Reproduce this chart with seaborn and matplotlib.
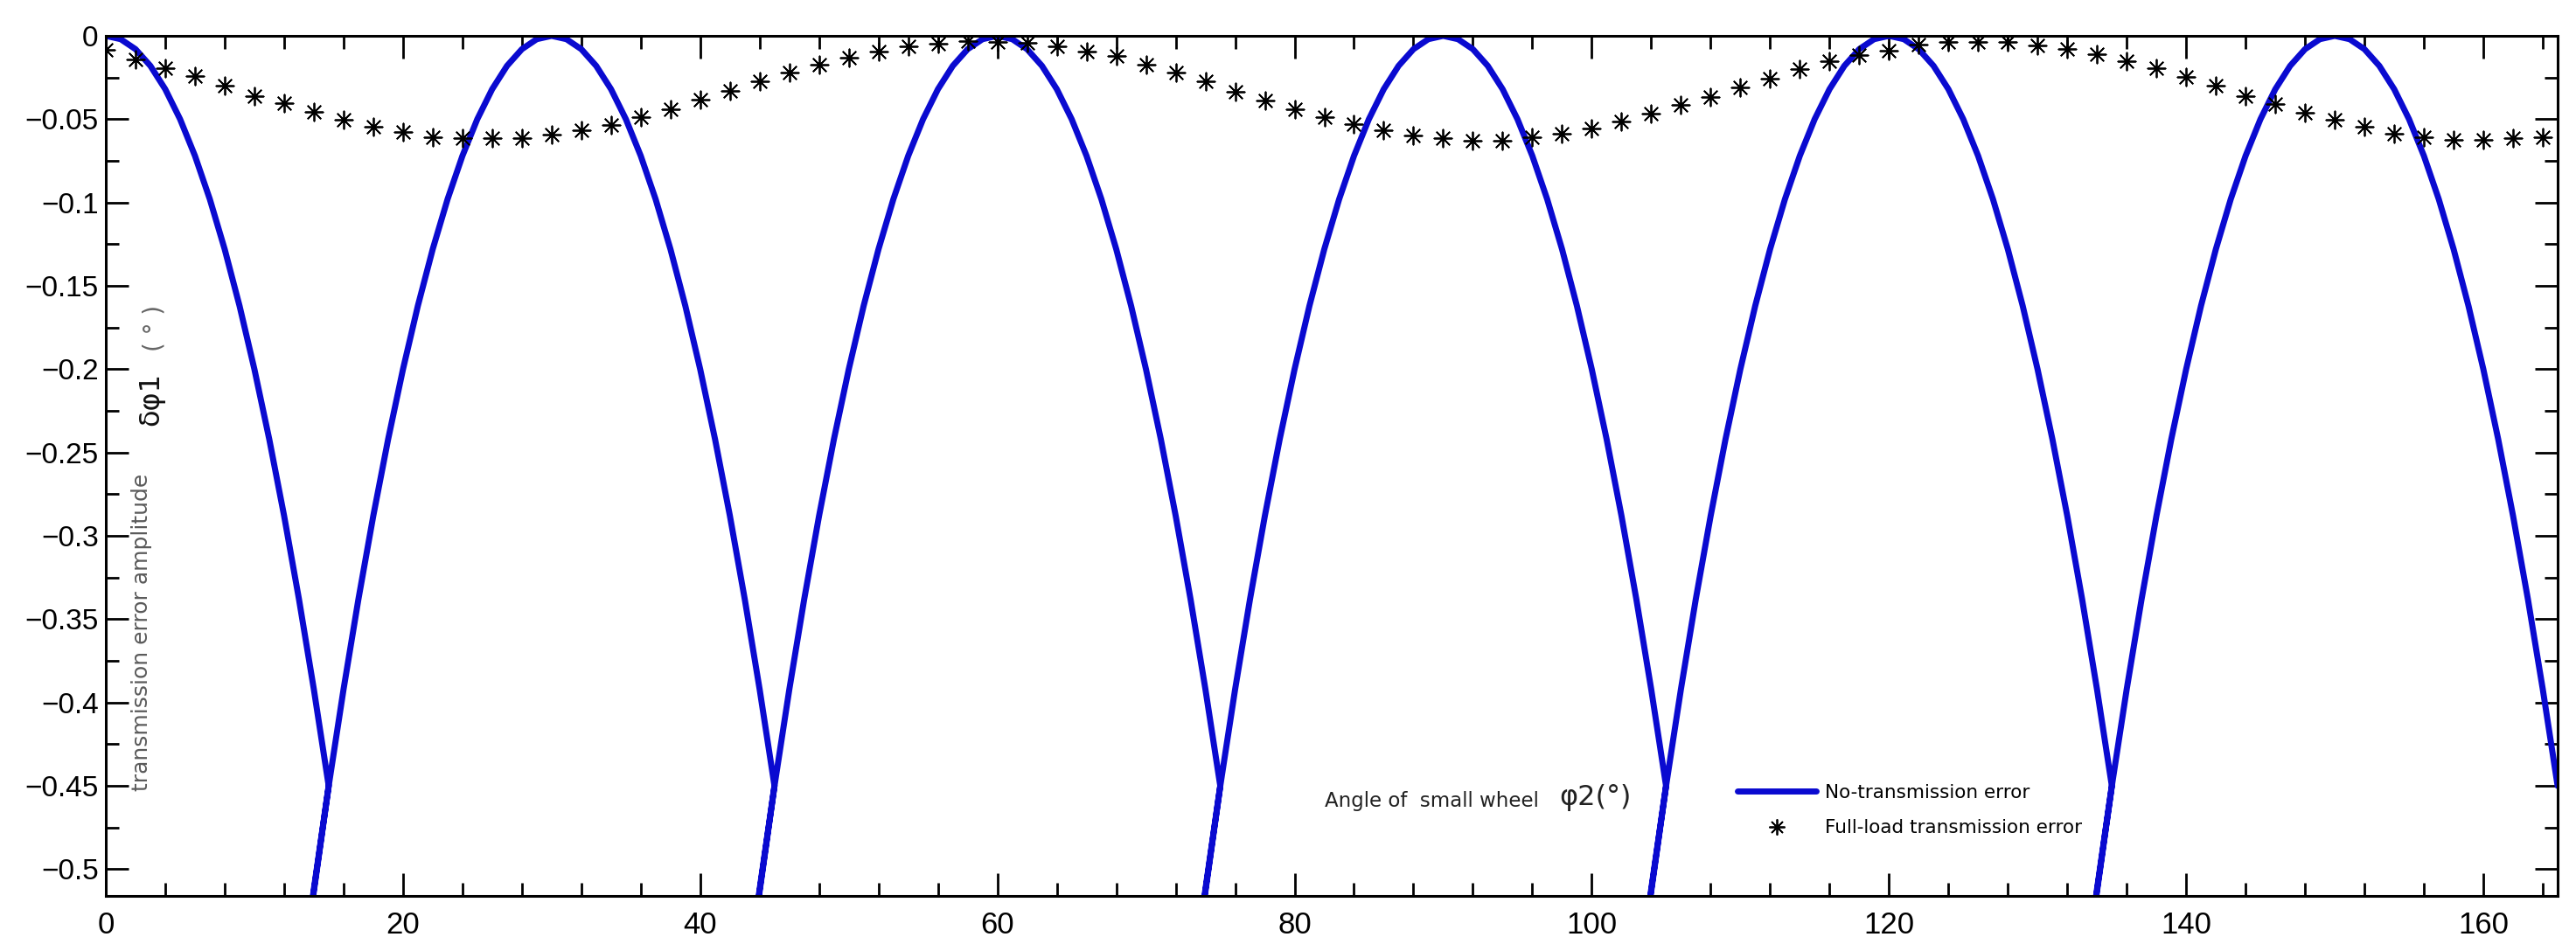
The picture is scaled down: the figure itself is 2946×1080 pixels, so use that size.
import matplotlib
matplotlib.use("Agg")
import matplotlib.pyplot as plt
import seaborn as sns
import pandas as pd
from matplotlib.lines import Line2D
from matplotlib.ticker import MultipleLocator

# ---------------- data ----------------
# No-transmission error: one tooth-pair arch (offset from tooth centre, value), repeated per tooth
tooth_centers = [0, 30, 60, 90, 120, 150]
arch_offsets = [-16.5, -16, -15, -14, -13, -12, -11, -10, -9, -8, -7, -6, -5, -4, -3, -2, -1,
                0, 1, 2, 3, 4, 5, 6, 7, 8, 9, 10, 11, 12, 13, 14, 15]
arch_values = [-0.545, -0.512, -0.450, -0.392, -0.338, -0.288, -0.242, -0.200, -0.162, -0.128,
               -0.098, -0.072, -0.050, -0.032, -0.018, -0.008, -0.002,
               0.0, -0.002, -0.008, -0.018, -0.032, -0.050, -0.072, -0.098, -0.128, -0.162,
               -0.200, -0.242, -0.288, -0.338, -0.392, -0.450]

# Full-load transmission error (asterisks)
star_x = [0, 2, 4, 6, 8, 10, 12, 14, 16, 18, 20, 22, 24, 26, 28, 30, 32, 34, 36, 38,
          40, 42, 44, 46, 48, 50, 52, 54, 56, 58, 60, 62, 64, 66, 68, 70, 72, 74, 76, 78,
          80, 82, 84, 86, 88, 90, 92, 94, 96, 98, 100, 102, 104, 106, 108, 110, 112, 114,
          116, 118, 120, 122, 124, 126, 128, 130, 132, 134, 136, 138, 140, 142, 144, 146,
          148, 150, 152, 154, 156, 158, 160, 162, 164]
star_y = [-0.0082, -0.0143, -0.0192, -0.0243, -0.0301, -0.0362, -0.0406, -0.0455, -0.0502,
          -0.0546, -0.0575, -0.0610, -0.0612, -0.0616, -0.0616, -0.0595, -0.0567, -0.0537,
          -0.0488, -0.0441, -0.0385, -0.0331, -0.0275, -0.0222, -0.0175, -0.0131, -0.0096,
          -0.0065, -0.0047, -0.0030, -0.0038, -0.0042, -0.0065, -0.0096, -0.0122, -0.0175,
          -0.0222, -0.0271, -0.0336, -0.0388, -0.0441, -0.0490, -0.0532, -0.0568, -0.0598,
          -0.0616, -0.0630, -0.0630, -0.0607, -0.0586, -0.0555, -0.0516, -0.0467, -0.0415,
          -0.0366, -0.0310, -0.0257, -0.0201, -0.0152, -0.0117, -0.0088, -0.0051, -0.0038,
          -0.0038, -0.0038, -0.0056, -0.0079, -0.0108, -0.0152, -0.0196, -0.0248, -0.0301,
          -0.0362, -0.0411, -0.0463, -0.0505, -0.0546, -0.0586, -0.0607, -0.0624, -0.0624,
          -0.0616, -0.0610]

y_ticks = [0, -0.05, -0.1, -0.15, -0.2, -0.25, -0.3, -0.35, -0.4, -0.45, -0.5]
y_tick_labels = ["0", "\u22120.05", "\u22120.1", "\u22120.15", "\u22120.2", "\u22120.25",
                 "\u22120.3", "\u22120.35", "\u22120.4", "\u22120.45", "\u22120.5"]
x_ticks = [0, 20, 40, 60, 80, 100, 120, 140, 160]
x_tick_labels = ["0", "20", "40", "60", "80", "100", "120", "140", "160"]

legend_labels = ["No-transmission error", "Full-load transmission error"]

# ---------------- figure ----------------
sns.set_theme(style="ticks")
plt.rcParams["font.family"] = ["Liberation Sans", "DejaVu Sans"]

W, H = 2946, 1080
fig = plt.figure(figsize=(W / 100, H / 100), dpi=100)
fig.patch.set_facecolor("white")
ax = fig.add_axes([121 / W, 1 - 1025 / H, (2925 - 121) / W, (1025 - 41) / H])
ax.set_facecolor("white")

xs, ys = [], []
for c in tooth_centers:
    for o, v in zip(arch_offsets, arch_values):
        xs.append(c + o)
        ys.append(v)
blue_df = pd.DataFrame({"x": xs, "y": ys})
blue = "#0a0ad0"
sns.lineplot(data=blue_df, x="x", y="y", sort=False, estimator=None, color=blue,
             linewidth=5.0, ax=ax)

star_marker = (8, 2, 0)
sns.scatterplot(x=star_x, y=star_y, marker=star_marker, s=210, color="black",
                linewidth=1.3, ax=ax, zorder=3)

ax.set_xlim(0, 165)
ax.set_ylim(-0.516, 0)
ax.set_xticks(x_ticks, x_tick_labels, fontsize=25)
ax.set_yticks(y_ticks, y_tick_labels, fontsize=24)
ax.xaxis.set_minor_locator(MultipleLocator(4))
ax.yaxis.set_minor_locator(MultipleLocator(0.025))
ax.tick_params(which="both", direction="in", top=True, right=True, width=2, colors="black")
ax.tick_params(which="major", length=19)
ax.tick_params(which="minor", length=11)
ax.tick_params(axis="x", which="major", pad=12)
ax.tick_params(axis="y", which="major", pad=6)
for sp in ax.spines.values():
    sp.set_visible(True)
    sp.set_linewidth(2.2)
    sp.set_color("black")
ax.set_xlabel("")
ax.set_ylabel("")

# y label (drawn inside the axes, as in the reference)
fig.text(162 / W, 1 - 905 / H, "transmission error amplitude", rotation=90, ha="center",
         va="bottom", color="#5a5a5a", fontsize=18, family=["DejaVu Sans"])
fig.text(173 / W, 1 - 487 / H, "\u03b4\u03c61", rotation=90, ha="center", va="bottom",
         color="#111111", fontsize=23, family=["DejaVu Sans"])
fig.text(176 / W, 1 - 402 / H, "( \u00b0 )", rotation=90, ha="center", va="bottom",
         color="#666666", fontsize=20, family=["DejaVu Sans"])

# x label (drawn inside the axes)
fig.text(1515 / W, 1 - 917 / H, "Angle of  small wheel", ha="left", va="center",
         color="#222222", fontsize=16.5, family=["DejaVu Sans"])
fig.text(1783 / W, 1 - 913 / H, "\u03c62(\u00b0)", ha="left", va="center",
         color="#222222", fontsize=23, family=["DejaVu Sans"])

handles = [Line2D([], [], color=blue, linewidth=5),
           Line2D([], [], color="black", marker=star_marker, linestyle="none",
                  markersize=13, markeredgewidth=1.3)]
leg = ax.legend(handles, legend_labels, loc="upper left",
                bbox_to_anchor=((1987 - 121) / 2804, 1 - (897 - 41) / 984),
                frameon=False, fontsize=15.5, handlelength=4.2, handletextpad=0.45,
                labelspacing=0.95, borderpad=0, borderaxespad=0)
for t in leg.get_texts():
    t.set_family(["DejaVu Sans"])
    t.set_color("black")

fig.savefig("out.png", dpi=100, facecolor="white")
